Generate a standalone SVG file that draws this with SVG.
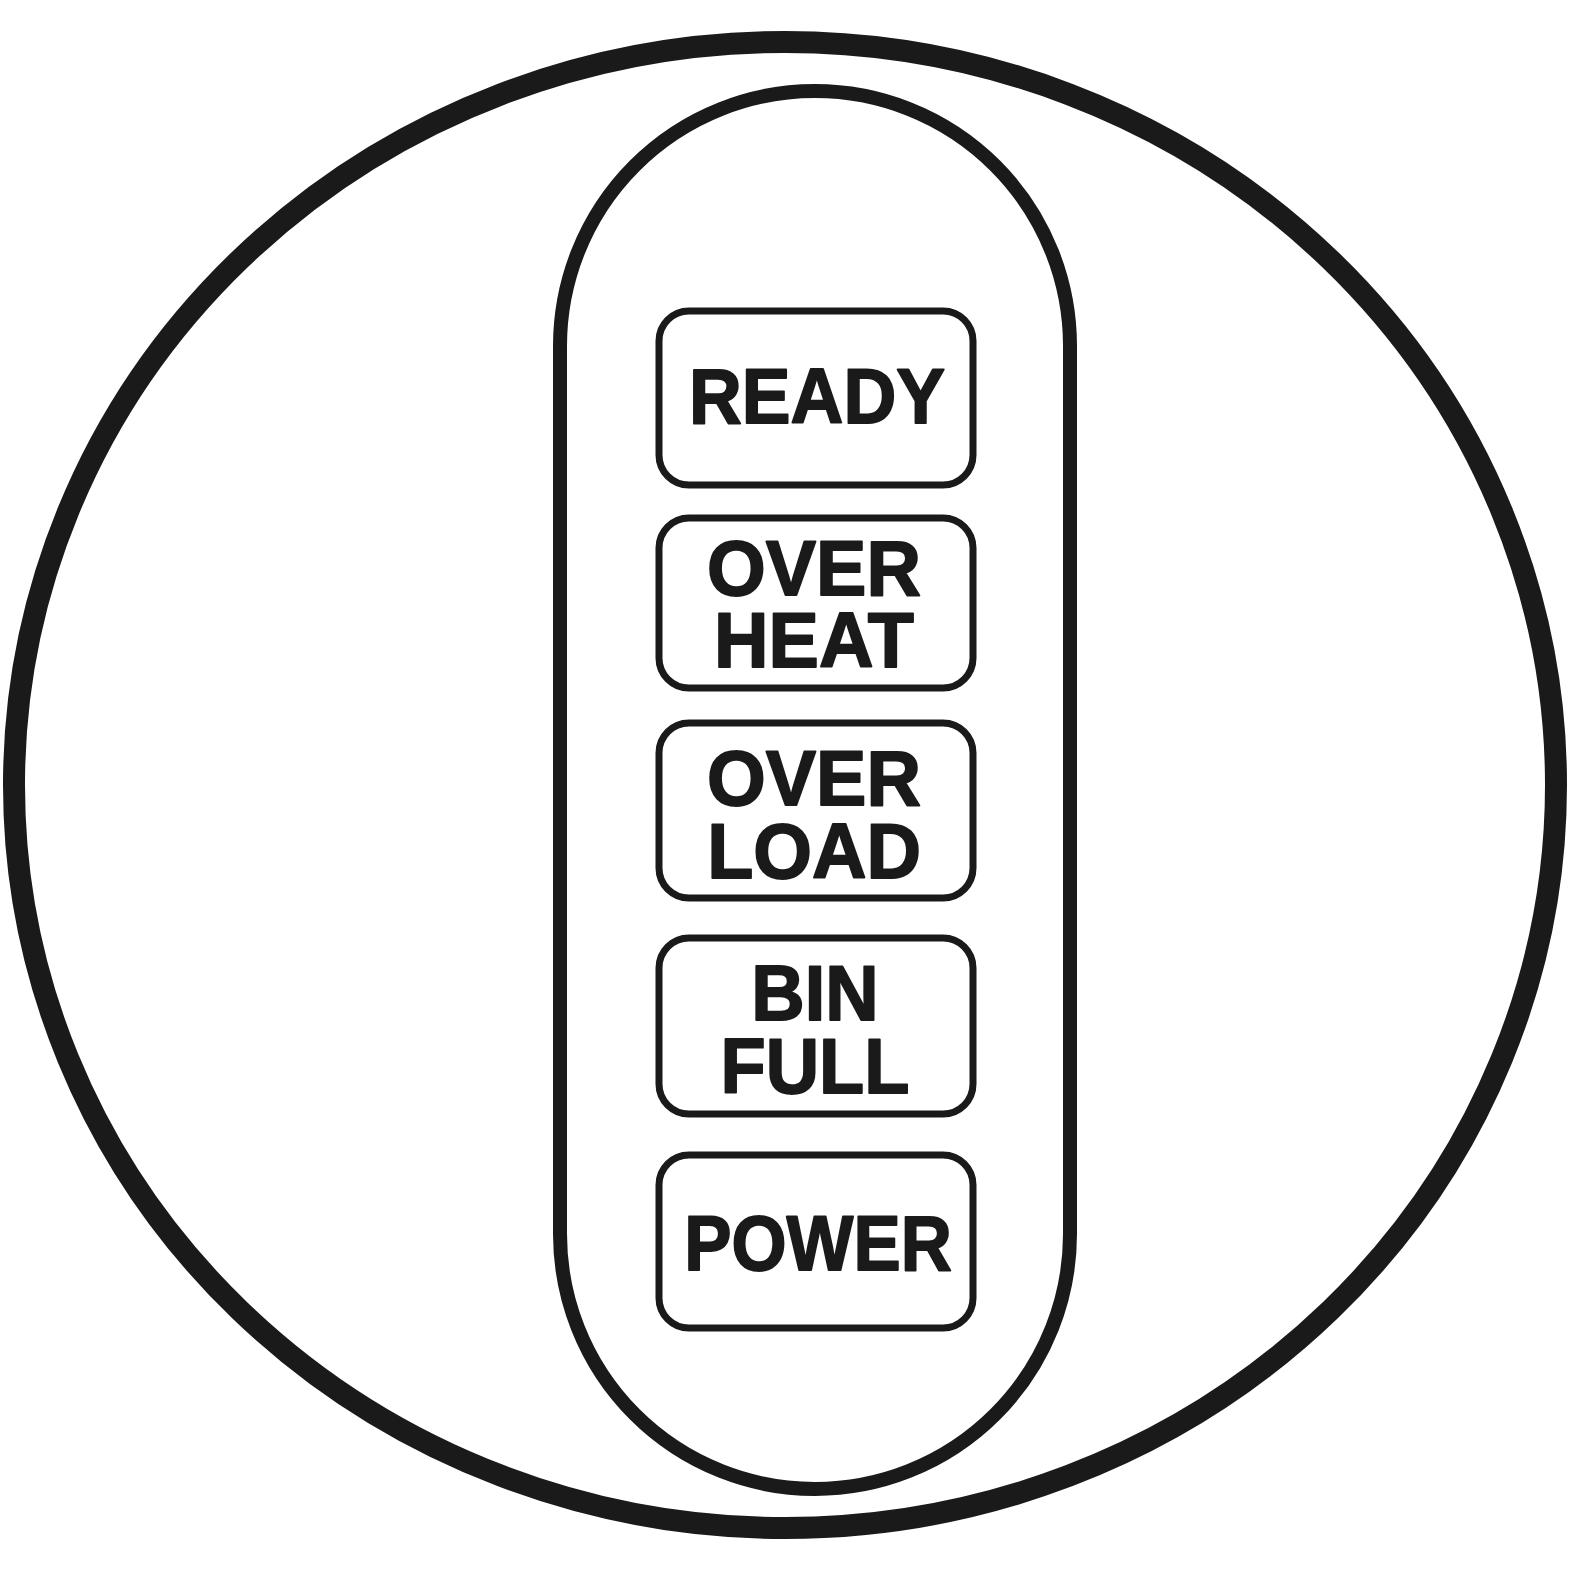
<svg xmlns="http://www.w3.org/2000/svg" width="1575" height="1575" viewBox="0 0 1575 1575">
<style>
.outer{fill:none;stroke:#1a1a1a;stroke-width:22}
.pill{fill:none;stroke:#1a1a1a;stroke-width:14}
.box{fill:none;stroke:#1a1a1a;stroke-width:7}
.lbl{font-family:"Liberation Sans",Arial,sans-serif;font-weight:700;font-size:77px;fill:#1a1a1a;stroke:#1a1a1a;stroke-width:1.8;stroke-linejoin:round;text-anchor:middle}
</style>
<rect x="0" y="0" width="1575" height="1575" fill="#ffffff"/>
<g id="outer-circle"><ellipse class="outer" cx="785" cy="785" rx="771" ry="743"/></g>
<g id="panel"><rect class="pill" x="560" y="91" width="510" height="1398" rx="255" ry="255"/></g>
<g id="ready">
<rect class="box" x="659" y="311" width="314" height="174" rx="30"/>
<text class="lbl" transform="translate(817,423) scale(0.95,1)">READY</text>
</g>
<g id="overheat">
<rect class="box" x="659" y="518" width="314" height="170" rx="30"/>
<text class="lbl" transform="translate(814,0) scale(0.98,1)"><tspan x="0" y="595">OVER</tspan><tspan x="0" y="667">HEAT</tspan></text>
</g>
<g id="overload">
<rect class="box" x="659" y="723" width="314" height="175" rx="30"/>
<text class="lbl" transform="translate(814,0) scale(0.98,1)"><tspan x="0" y="805">OVER</tspan><tspan x="0" y="878">LOAD</tspan></text>
</g>
<g id="binfull">
<rect class="box" x="659" y="938" width="314" height="176" rx="30"/>
<text class="lbl" transform="translate(815,0) scale(0.96,1)"><tspan x="0" y="1020">BIN</tspan><tspan x="0" y="1093">FULL</tspan></text>
</g>
<g id="power">
<rect class="box" x="659" y="1155" width="314" height="173" rx="30"/>
<text class="lbl" transform="translate(818,1270) scale(0.92,1)">POWER</text>
</g>
<g id="connectors"></g>
</svg>
